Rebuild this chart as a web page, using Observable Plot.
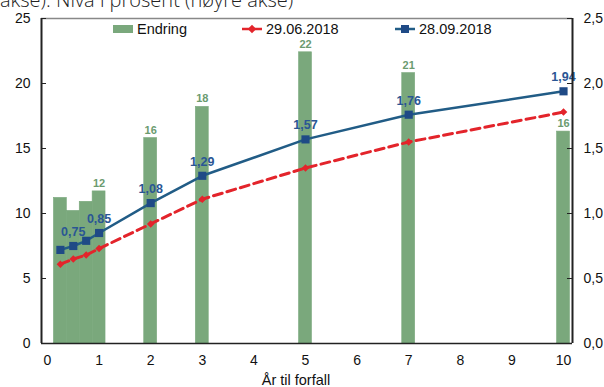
<!DOCTYPE html>
<html>
<head>
<meta charset="utf-8">
<script src="https://cdn.jsdelivr.net/npm/d3@7"></script>
<script src="https://cdn.jsdelivr.net/npm/@observablehq/plot@0.6"></script>
<style>
  html, body { margin: 0; padding: 0; background: #fff; }
  body { width: 604px; height: 387px; overflow: hidden; position: relative; font-family: "Liberation Sans", Arial, sans-serif; }
  #title { position: absolute; left: 0; top: -10px; line-height: 20px; font-family: "Open Sans", sans-serif; font-weight: 300; font-size: 20px; color: #222; white-space: nowrap; }
  #chart { position: absolute; left: 0; top: 0; }
  #legend { position: absolute; top: 20px; left: 0; width: 604px; height: 17px; font-size: 14.5px; color: #111; }
  #legend .item { position: absolute; top: 0; display: flex; align-items: center; height: 17px; }
  #legend svg { display: block; margin-right: 4px; }
</style>
</head>
<body>
<div id="chart"></div>
<div id="title">akse). Nivå i prosent (høyre akse)</div>
<div id="legend"></div>
<script>
// Years to maturity
const maturities = [0.25, 0.5, 0.75, 1, 2, 3, 5, 7, 10];
// Change between the two dates, basis points (left axis)
const endring = [11.2, 10.2, 10.9, 11.7, 15.8, 18.2, 22.4, 20.8, 16.3];
// Yield levels in percent (right axis)
const rente290618 = [0.61, 0.65, 0.68, 0.73, 0.92, 1.11, 1.35, 1.55, 1.78];
const rente280918 = [0.72, 0.75, 0.79, 0.85, 1.08, 1.29, 1.57, 1.76, 1.94];
// Which points carry a value label
const endringLabel = [false, false, false, true, true, true, true, true, true];
const renteLabel = [false, true, false, true, true, true, true, true, true];
// Tick values
const xTicks = [0, 1, 2, 3, 4, 5, 6, 7, 8, 9, 10];
const leftTicks = [0, 5, 10, 15, 20, 25];
const rightTicks = [0, 0.5, 1, 1.5, 2, 2.5];
const seriesNames = ["Endring", "29.06.2018", "28.09.2018"];
const xTitle = "År til forfall";

const green = "#7aa87c", greenText = "#6b9b6f";
const red = "#e3242b";
const blueLine = "#215c86", blueMark = "#1f4a86", blueText = "#2a5694";

// Right axis (percent) maps onto the left axis (bp) by a factor of 10
const toLeft = v => v * 10;
const barHalf = 0.125;
const comma = s => s.replace(".", ",");

const rows = maturities.map((m, i) => ({
  m, endring: endring[i], r1: rente290618[i], r2: rente280918[i],
  lblE: endringLabel[i], lblR: renteLabel[i]
}));

const W = 604, H = 387;
const mL = 41, mR = 32, mT = 18, mB = 44;
const innerW = W - mL - mR;

const chart = Plot.plot({
  width: W, height: H,
  marginLeft: mL, marginRight: mR, marginTop: mT, marginBottom: mB,
  style: { fontFamily: "Liberation Sans, Arial, sans-serif", fontSize: "14px", color: "#111", background: "#fff" },
  x: { domain: [-0.116, 10.174] },
  y: { domain: [0, 25] },
  marks: [
    Plot.rectY(rows, { x1: d => d.m - barHalf, x2: d => d.m + barHalf, y: "endring", fill: green, stroke: green, strokeWidth: 0.6 }),
    Plot.text(rows.filter(d => d.lblE), { x: "m", y: "endring", text: d => d3.format(".0f")(d.endring), dy: -8, fill: greenText, fontWeight: "bold", fontSize: 11 }),
    Plot.line(rows, { x: "m", y: d => toLeft(d.r1), stroke: red, strokeWidth: 3, strokeDasharray: "9,5" }),
    Plot.dot(rows, { x: "m", y: d => toLeft(d.r1), symbol: "diamond2", r: 3.4, fill: red, stroke: "none" }),
    Plot.line(rows, { x: "m", y: d => toLeft(d.r2), stroke: blueLine, strokeWidth: 2.5 }),
    Plot.dot(rows, { x: "m", y: d => toLeft(d.r2), symbol: "square", r: 4.6, fill: blueMark, stroke: "none" }),
    Plot.text(rows.filter(d => d.lblR), { x: "m", y: d => toLeft(d.r2), text: d => comma(d.r2.toFixed(2)), dy: -14, fill: blueText, fontWeight: "bold", fontSize: 12.5 }),
    // frame
    Plot.ruleY([25], { stroke: "#888", strokeWidth: 1.5 }),
    Plot.ruleY([0], { stroke: "#222", strokeWidth: 1.5 }),
    Plot.ruleX([-0.116], { stroke: "#222", strokeWidth: 2 }),
    Plot.ruleX([10.174], { stroke: "#222", strokeWidth: 2 }),
    // inward ticks
    Plot.tickY(leftTicks, { y: d => d, insetRight: innerW - 5, stroke: "#222" }),
    Plot.tickY(rightTicks, { y: d => toLeft(d), insetLeft: innerW - 5, stroke: "#222" }),
    // axes
    Plot.axisY(leftTicks, { anchor: "left", tickSize: 0, tickPadding: 11, label: null, fontSize: 14 }),
    Plot.axisY(rightTicks.map(toLeft), { anchor: "right", tickSize: 0, tickPadding: 11, label: null, tickFormat: d => comma((d / 10).toFixed(1)), fontSize: 14 }),
    Plot.axisX(xTicks, { anchor: "bottom", tickSize: 0, tickPadding: 12, label: null, fontSize: 14 }),
    Plot.text([xTitle], { frameAnchor: "bottom", dx: -11, dy: 41, text: d => d, fontSize: 14.5, fill: "#111" })
  ]
});
document.getElementById("chart").append(chart);

// Legend inside the plot area
const legend = document.getElementById("legend");
const items = [
  { left: 113, name: seriesNames[0], swatch: `<svg width="20" height="8"><rect x="0" y="0" width="20" height="8" fill="${green}"/></svg>` },
  { left: 242, name: seriesNames[1], swatch: `<svg width="20" height="10"><line x1="0" y1="5" x2="20" y2="5" stroke="${red}" stroke-width="2.5"/><path d="M10,0.8L14.2,5L10,9.2L5.8,5Z" fill="${red}"/></svg>` },
  { left: 395, name: seriesNames[2], swatch: `<svg width="20" height="10"><line x1="0" y1="5" x2="20" y2="5" stroke="${blueLine}" stroke-width="2.5"/><rect x="6" y="1" width="8" height="8" fill="${blueMark}"/></svg>` }
];
for (const it of items) {
  const div = document.createElement("div");
  div.className = "item";
  div.style.left = it.left + "px";
  div.innerHTML = it.swatch + `<span>${it.name}</span>`;
  legend.append(div);
}
</script>
</body>
</html>
